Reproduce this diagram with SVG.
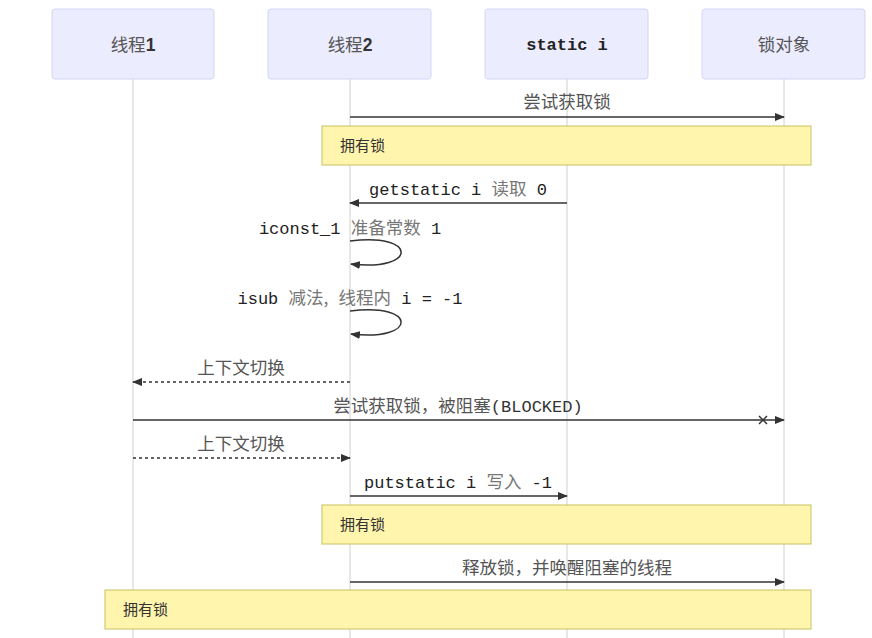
<svg xmlns="http://www.w3.org/2000/svg" width="872" height="638" viewBox="0 0 872 638">
<style>
.actor{fill:#ECECFF;stroke:#d4d4f4;stroke-width:1}
.life{stroke:#d0d0d0;stroke-width:1}
.note{fill:#fff5ad;stroke:#c8c260;stroke-width:1}
.msg{stroke:#333;stroke-width:1.5;fill:none}
.dash{stroke-dasharray:3,3}
.t{font-family:"Liberation Mono","Noto Sans CJK SC",monospace;font-size:17px;fill:#222}
.cj{font-family:"Noto Sans CJK SC",sans-serif;fill:#777;font-size:17.5px}
.lbl{font-family:"Noto Sans CJK SC",sans-serif;font-size:17.5px;fill:#555}
.nt{font-family:"Noto Sans CJK SC",sans-serif;font-size:15px;fill:#333}
</style>
<defs>
<marker id="ah" viewBox="0 0 10 10" refX="9" refY="5" markerWidth="10" markerHeight="10" markerUnits="userSpaceOnUse" orient="auto"><path d="M0,1 L10,5 L0,9 z" fill="#333"/></marker>
</defs>
<rect width="872" height="638" fill="#fff"/>
<g id="lifelines">
<line class="life" x1="133" y1="79" x2="133" y2="638"/>
<line class="life" x1="350" y1="79" x2="350" y2="638"/>
<line class="life" x1="567" y1="79" x2="567" y2="638"/>
<line class="life" x1="784" y1="79" x2="784" y2="638"/>
</g>
<g id="thread1"><rect class="actor" x="52" y="9" width="162" height="70" rx="3"/><text class="lbl" x="133" y="51" text-anchor="middle">线程<tspan font-family="Liberation Sans" font-weight="bold" fill="#333">1</tspan></text></g>
<g id="thread2"><rect class="actor" x="268" y="9" width="163" height="70" rx="3"/><text class="lbl" x="350" y="51" text-anchor="middle">线程<tspan font-family="Liberation Sans" font-weight="bold" fill="#333">2</tspan></text></g>
<g id="static_i"><rect class="actor" x="485" y="9" width="163" height="70" rx="3"/><text class="t" x="567" y="50" text-anchor="middle" font-weight="bold">static i</text></g>
<g id="lock"><rect class="actor" x="702" y="9" width="163" height="70" rx="3"/><text class="lbl" x="784" y="51" text-anchor="middle">锁对象</text></g>
<g id="notes">
<g id="note1"><rect class="note" x="322" y="126" width="489" height="39"/><text class="nt" x="340" y="151">拥有锁</text></g>
<g id="note2"><rect class="note" x="322" y="505" width="489" height="39"/><text class="nt" x="340" y="530">拥有锁</text></g>
<g id="note3"><rect class="note" x="105" y="590" width="706" height="39"/><text class="nt" x="123" y="615">拥有锁</text></g>
</g>
<g id="connectors">
<line class="msg" x1="350" y1="117" x2="784" y2="117" marker-end="url(#ah)"/>
<line class="msg" x1="567" y1="203" x2="350" y2="203" marker-end="url(#ah)"/>
<path class="msg" d="M350,241 C418,232 418,272 351,264" marker-end="url(#ah)"/>
<path class="msg" d="M350,311 C418,302 418,342 351,334" marker-end="url(#ah)"/>
<line class="msg dash" x1="350" y1="382" x2="133" y2="382" marker-end="url(#ah)"/>
<line class="msg" x1="133" y1="420" x2="784" y2="420" marker-end="url(#ah)"/>
<path d="M759,416 L767,424 M767,416 L759,424" stroke="#333" stroke-width="1.5"/>
<line class="msg dash" x1="133" y1="458" x2="350" y2="458" marker-end="url(#ah)"/>
<line class="msg" x1="350" y1="496" x2="567" y2="496" marker-end="url(#ah)"/>
<line class="msg" x1="350" y1="582" x2="784" y2="582" marker-end="url(#ah)"/>
</g>
<g id="labels">
<text class="lbl" x="567" y="108" text-anchor="middle">尝试获取锁</text>
<text class="t" x="458" y="195" text-anchor="middle">getstatic i <tspan class="cj">读取</tspan> 0</text>
<text class="t" x="350" y="234" text-anchor="middle">iconst_1 <tspan class="cj">准备常数</tspan> 1</text>
<text class="t" x="350" y="304" text-anchor="middle">isub <tspan class="cj">减法,</tspan> <tspan class="cj">线程内</tspan> i = -1</text>
<text class="lbl" x="241" y="374" text-anchor="middle">上下文切换</text>
<text class="lbl" x="458" y="412" text-anchor="middle">尝试获取锁，被阻塞<tspan font-family="Liberation Mono" fill="#333" font-size="17px">(BLOCKED)</tspan></text>
<text class="lbl" x="241" y="450" text-anchor="middle">上下文切换</text>
<text class="t" x="458" y="488" text-anchor="middle">putstatic i <tspan class="cj">写入</tspan> -1</text>
<text class="lbl" x="567" y="574" text-anchor="middle">释放锁，并唤醒阻塞的线程</text>
</g>
</svg>
